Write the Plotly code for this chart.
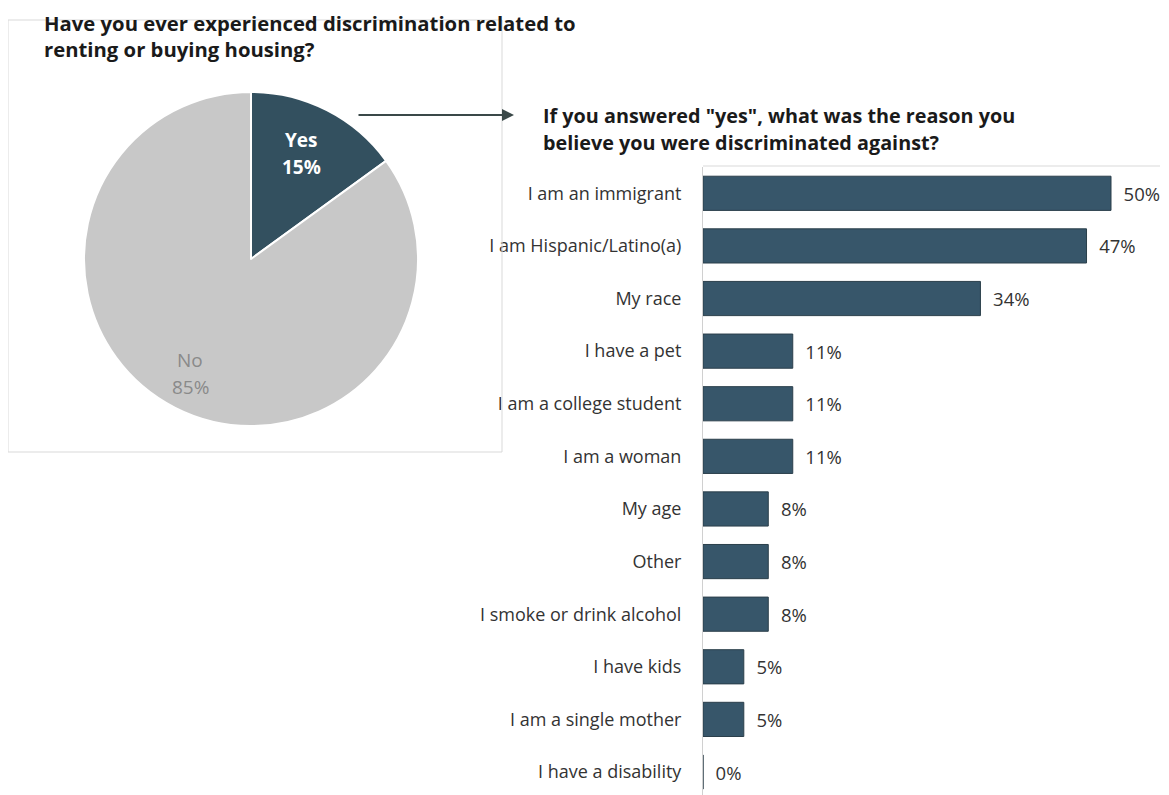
import plotly.graph_objects as go

W, H = 1169, 795
OFF = 8  # page body margin

pie_labels = ["Yes", "No"]
pie_values = [15, 85]

reasons = ["I am an immigrant", "I am Hispanic/Latino(a)", "My race", "I have a pet",
           "I am a college student", "I am a woman", "My age", "Other",
           "I smoke or drink alcohol", "I have kids", "I am a single mother",
           "I have a disability"]
reason_pct = [50, 47, 34, 11, 11, 11, 8, 8, 8, 5, 5, 0]

title1 = ["Have you ever experienced discrimination related to", "renting or buying housing?"]
title2 = ["If you answered \"yes\", what was the reason you", "believe you were discriminated against?"]

FONT = "Open Sans"
DARK = "#37566a"

def px(x):
    return (x - OFF) / W

def py(y):
    return 1 - (y - OFF) / H

fig = go.Figure()

fig.add_trace(go.Pie(
    labels=pie_labels, values=pie_values, sort=False, direction="clockwise",
    rotation=0,
    marker=dict(colors=["#33505f", "#c8c8c8"], line=dict(color="white", width=2)),
    textinfo="none",
    domain=dict(x=[px(84), px(418)], y=[py(426), py(92)]),
    showlegend=False, hoverinfo="label+percent",
))

fig.add_trace(go.Bar(
    x=reason_pct, y=reasons, orientation="h",
    marker=dict(color=DARK, line=dict(color="#2b3f4b", width=1)),
    width=0.65,
    texttemplate="\u00a0\u00a0%{x}%", textposition="outside", cliponaxis=False,
    textfont=dict(family=FONT, size=18.5, color="#333333"),
    xaxis="x", yaxis="y", showlegend=False,
))

bottom_px = H + OFF
row0, rowstep = 193, (772 - 193) / 11
ybot = (bottom_px - row0) / rowstep

annotations = []
annotations.append(dict(xref="paper", yref="paper", x=px(43), y=py(36.5),
                        xanchor="left", yanchor="middle", showarrow=False, align="left",
                        borderpad=0,
                        text="<br>".join(f"<b>{l}</b>" for l in title1),
                        font=dict(family=FONT, size=20.3, color="#1a1a1a")))
for i, line in enumerate(title2):
    annotations.append(dict(xref="paper", yref="paper", x=px(541), y=py(116 + 27 * i),
                            xanchor="left", yanchor="middle", showarrow=False,
                            text=f"<b>{line}</b>",
                            font=dict(family=FONT, size=19.8, color="#1a1a1a")))
# pie slice labels, built from the pie data
pie_text_pos = [(301, 140), (190, 360)]
pie_text_style = [dict(color="white", bold=True), dict(color="#8a8a8a", bold=False)]
for lab, val, (cx, cy), st in zip(pie_labels, pie_values, pie_text_pos, pie_text_style):
    for j, t in enumerate([lab, f"{val}%"]):
        annotations.append(dict(xref="paper", yref="paper", x=px(cx), y=py(cy + 27 * j),
                                xanchor="center", yanchor="middle", showarrow=False,
                                text=f"<b>{t}</b>" if st["bold"] else t,
                                font=dict(family=FONT, size=19, color=st["color"])))
annotations.append(dict(xref="paper", yref="paper", x=px(514), y=py(115), ax=-157, ay=0,
                        axref="pixel", ayref="pixel", showarrow=True, arrowhead=2,
                        arrowsize=1.2, arrowwidth=2, arrowcolor="#3a4848", text=""))

fig.update_layout(
    width=W, height=H, margin=dict(l=0, r=0, t=0, b=0),
    paper_bgcolor="white", plot_bgcolor="white",
    font=dict(family=FONT, color="#333333"),
    xaxis=dict(domain=[px(703), 1.0], range=[0, (W + OFF - 703) / 8.16], visible=False),
    yaxis=dict(domain=[0, py(167)], range=[ybot, -0.5], showline=True,
               linecolor="#d0d0d0", linewidth=1, ticks="", showgrid=False,
               tickfont=dict(family=FONT, size=18, color="#333333"),
               ticklabelstandoff=17, anchor="x"),
    shapes=[
        dict(type="rect", xref="paper", yref="paper", x0=px(8), x1=px(502),
             y0=py(452), y1=py(20), line=dict(color="#d9d9d9", width=1)),
        dict(type="line", xref="paper", yref="paper", x0=px(703), x1=px(1160),
             y0=py(166), y1=py(166), line=dict(color="#d9d9d9", width=1)),
    ],
    annotations=annotations,
)

fig.write_html("out.html")
